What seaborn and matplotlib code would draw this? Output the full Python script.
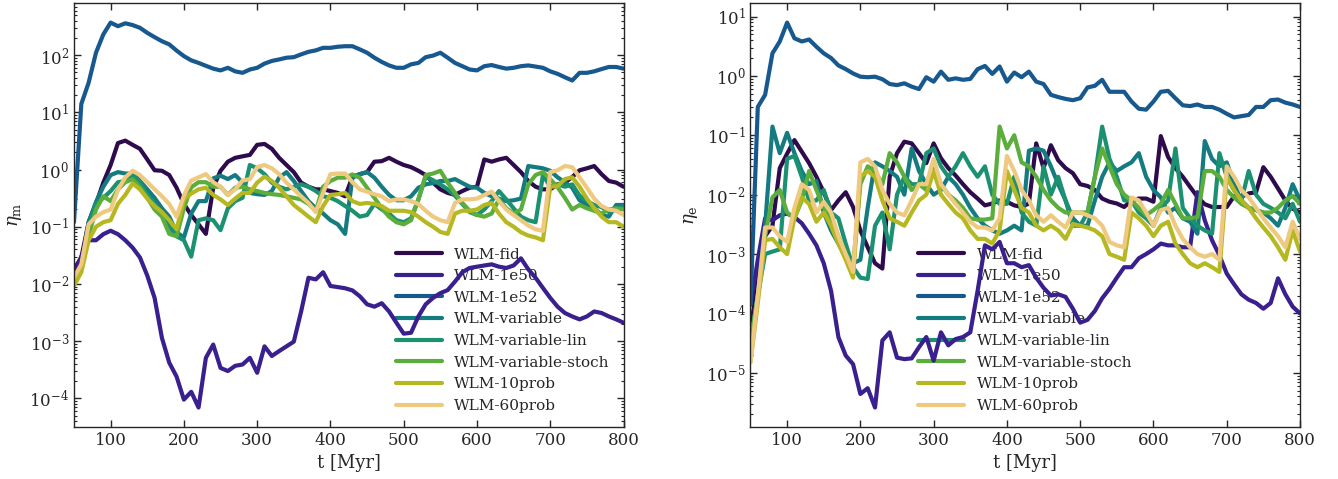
import numpy as np
import pandas as pd
import matplotlib
matplotlib.use("Agg")
import matplotlib.pyplot as plt
from matplotlib.ticker import FixedLocator, LogLocator, NullFormatter
import seaborn as sns

# time grid of the snapshots [Myr]
t = np.arange(50, 801, 10)

runs = ["WLM-fid", "WLM-1e50", "WLM-1e52", "WLM-variable", "WLM-variable-lin",
        "WLM-variable-stoch", "WLM-10prob", "WLM-60prob"]
colors = ["#2e0b4c", "#3a1f8e", "#17598f", "#147b80", "#1c9171",
          "#5bad3c", "#b6b822", "#eec97f"]

# decades labelled on each y axis
mass_ticks = [1e-4, 1e-3, 1e-2, 1e-1, 1e0, 1e1, 1e2]
energy_ticks = [1e-5, 1e-4, 1e-3, 1e-2, 1e-1, 1e0, 1e1]

# ---- mass loading factor eta_m ----
eta_m_fid = [0.018, 0.029, 0.12, 0.25, 0.59, 1.2, 2.9, 3.2, 2.7, 2.3,
             1.5, 0.97, 0.95, 0.8, 0.48, 0.25, 0.16, 0.11, 0.075, 0.48,
             0.95, 1.37, 1.6, 1.7, 1.8, 2.7, 2.8, 2.3, 1.6, 1.2,
             0.9, 0.59, 0.5, 0.45, 0.45, 0.42, 0.39, 0.34, 0.74, 0.83,
             0.9, 1.37, 1.4, 1.6, 1.37, 1.2, 1.1, 0.95, 0.8, 0.59,
             0.45, 0.39, 0.36, 0.42, 0.48, 0.5, 1.5, 1.37, 1.5, 1.6,
             1.2, 0.9, 0.63, 0.5, 0.45, 0.45, 0.55, 0.59, 0.74, 0.97,
             1.05, 1.15, 0.83, 0.63, 0.59, 0.5]
eta_m_1e50 = [0.015, 0.03, 0.058, 0.058, 0.074, 0.085, 0.074, 0.058, 0.043, 0.029,
              0.014, 0.0057, 0.00114, 0.00042, 0.00024, 9.5e-5, 1.3e-4, 6.9e-5, 5.1e-4, 8.7e-4,
              3.4e-4, 3.0e-4, 3.7e-4, 3.9e-4, 5.1e-4, 2.8e-4, 8.1e-4, 5.5e-4, 6.7e-4, 8.1e-4,
              9.8e-4, 0.0033, 0.0128, 0.012, 0.016, 0.0092, 0.0088, 0.0084, 0.0077, 0.0061,
              0.0044, 0.004, 0.0046, 0.0033, 0.0021, 0.00135, 0.0014, 0.0027, 0.0044, 0.0057,
              0.0069, 0.0078, 0.011, 0.016, 0.019, 0.02, 0.021, 0.022, 0.02, 0.019,
              0.021, 0.028, 0.018, 0.0128, 0.0085, 0.0057, 0.004, 0.0031, 0.0027, 0.0024,
              0.0027, 0.0033, 0.0031, 0.0027, 0.0024, 0.0021]
eta_m_1e52 = [0.12, 14, 33, 110, 230, 370, 320, 360, 335, 300,
              245, 206, 175, 154, 120, 96, 81, 73, 65, 58,
              54, 60, 52, 49, 56, 60, 71, 79, 84, 90,
              92, 103, 114, 121, 134, 134, 140, 143, 143, 126,
              110, 90, 76, 66, 60, 60, 69, 73, 92, 98,
              110, 90, 73, 64, 56, 54, 64, 67, 62, 58,
              60, 64, 66, 63, 60, 52, 47, 41, 36, 49,
              49, 52, 57, 62, 62, 58]
eta_m_var = [0.012, 0.02, 0.12, 0.27, 0.5, 0.8, 0.9, 0.85, 0.85, 0.63,
             0.45, 0.32, 0.21, 0.15, 0.08, 0.065, 0.17, 0.28, 0.28, 0.7,
             0.78, 0.68, 0.8, 0.59, 0.39, 0.37, 0.36, 0.42, 0.72, 0.9,
             0.63, 0.42, 0.28, 0.21, 0.17, 0.13, 0.11, 0.075, 0.72, 0.83,
             0.9, 0.72, 0.5, 0.36, 0.29, 0.29, 0.34, 0.48, 0.55, 0.58,
             0.63, 0.63, 0.68, 0.58, 0.5, 0.48, 0.39, 0.34, 0.31, 0.28,
             0.29, 0.31, 1.15, 1.1, 1.05, 0.95, 0.73, 0.6, 0.48, 0.29,
             0.24, 0.21, 0.16, 0.15, 0.24, 0.24]
eta_m_lin = [0.011, 0.02, 0.1, 0.25, 0.32, 0.42, 0.6, 0.63, 0.8, 0.6,
             0.36, 0.25, 0.17, 0.1, 0.068, 0.058, 0.03, 0.13, 0.14, 0.13,
             0.087, 0.21, 0.28, 0.32, 1.2, 1.05, 0.83, 0.59, 0.5, 0.45,
             0.5, 0.55, 0.5, 0.42, 0.34, 0.32, 0.28, 0.23, 0.19, 0.15,
             0.16, 0.25, 0.2, 0.17, 0.13, 0.12, 0.14, 0.3, 0.75, 0.65,
             0.55, 0.45, 0.35, 0.25, 0.18, 0.16, 0.2, 0.28, 0.42, 0.3,
             0.21, 0.15, 0.13, 0.12, 0.8, 0.5, 0.55, 0.5, 0.55, 0.35,
             0.28, 0.24, 0.22, 0.18, 0.2, 0.22]
eta_m_stoch = [0.011, 0.019, 0.07, 0.2, 0.34, 0.28, 0.45, 0.6, 0.68, 0.49,
               0.32, 0.2, 0.15, 0.075, 0.068, 0.21, 0.49, 0.6, 0.6, 0.5,
               0.5, 0.36, 0.48, 0.5, 0.45, 0.42, 0.39, 0.37, 0.36, 0.34,
               0.32, 0.3, 0.25, 0.19, 0.5, 0.63, 0.72, 0.72, 0.82, 0.72,
               0.48, 0.32, 0.21, 0.15, 0.12, 0.11, 0.13, 0.3, 0.8, 0.85,
               0.95, 0.59, 0.39, 0.26, 0.19, 0.16, 0.15, 0.17, 0.3, 0.21,
               0.17, 0.2, 0.55, 0.8, 0.9, 0.68, 0.49, 0.32, 0.2, 0.24,
               0.21, 0.19, 0.17, 0.2, 0.21, 0.2]
eta_m_10prob = [0.0093, 0.016, 0.058, 0.1, 0.12, 0.13, 0.25, 0.36, 0.57, 0.45,
                0.31, 0.23, 0.18, 0.13, 0.09, 0.3, 0.38, 0.45, 0.48, 0.36,
                0.3, 0.24, 0.31, 0.39, 0.39, 0.59, 0.75, 0.63, 0.48, 0.34,
                0.24, 0.19, 0.15, 0.12, 0.23, 0.36, 0.37, 0.39, 0.28, 0.25,
                0.26, 0.25, 0.23, 0.19, 0.19, 0.19, 0.18, 0.15, 0.12, 0.1,
                0.081, 0.075, 0.17, 0.19, 0.19, 0.2, 0.24, 0.26, 0.17, 0.12,
                0.1, 0.08, 0.07, 0.065, 0.058, 0.5, 0.51, 0.68, 0.73, 0.5,
                0.31, 0.21, 0.15, 0.12, 0.12, 0.1]
eta_m_60prob = [0.013, 0.022, 0.11, 0.15, 0.18, 0.2, 0.44, 0.73, 0.95, 0.8,
                0.6, 0.45, 0.34, 0.25, 0.15, 0.35, 0.64, 0.73, 0.83, 0.6,
                0.5, 0.36, 0.45, 0.64, 0.68, 1.1, 1.2, 1.05, 0.83, 0.59,
                0.45, 0.34, 0.26, 0.18, 0.39, 0.83, 0.85, 0.85, 0.6, 0.45,
                0.41, 0.37, 0.34, 0.28, 0.3, 0.3, 0.28, 0.25, 0.19, 0.15,
                0.13, 0.12, 0.26, 0.3, 0.3, 0.31, 0.36, 0.41, 0.28, 0.2,
                0.16, 0.13, 0.105, 0.09, 0.085, 0.9, 0.97, 1.15, 1.1, 0.73,
                0.48, 0.31, 0.23, 0.2, 0.19, 0.16]

# ---- energy loading factor eta_e ----
eta_e_fid = [5e-5, 4e-4, 0.002, 0.003, 0.028, 0.049, 0.083, 0.053, 0.034, 0.02,
             0.011, 0.0055, 0.008, 0.011, 0.0062, 0.0025, 0.0013, 7e-4, 5.7e-4, 0.02,
             0.05, 0.078, 0.073, 0.05, 0.034, 0.073, 0.041, 0.028, 0.021, 0.015,
             0.011, 0.0086, 0.0066, 0.0071, 0.008, 0.0076, 0.0066, 0.0062, 0.0071, 0.073,
             0.028, 0.068, 0.038, 0.028, 0.023, 0.015, 0.014, 0.012, 0.0086, 0.0076,
             0.0071, 0.0062, 0.008, 0.0086, 0.0086, 0.0076, 0.097, 0.043, 0.028, 0.02,
             0.0135, 0.0092, 0.0069, 0.0062, 0.0062, 0.0062, 0.0094, 0.0092, 0.0105, 0.011,
             0.029, 0.02, 0.0127, 0.008, 0.0058, 0.005]
eta_e_1e50 = [1.4e-4, 8e-4, 0.004, 0.0037, 0.0045, 0.0048, 0.0042, 0.0033, 0.0022, 0.0014,
              7e-4, 2.4e-4, 4e-5, 1.95e-5, 1.4e-5, 4.4e-6, 5.5e-6, 2.6e-6, 3.5e-5, 4.8e-5,
              1.8e-5, 1.7e-5, 1.75e-5, 2.7e-5, 4e-5, 1.6e-5, 4.8e-5, 2.9e-5, 3.7e-5, 4e-5,
              4.8e-5, 2.4e-4, 0.0014, 0.0012, 0.0016, 7e-4, 7e-4, 6e-4, 6.5e-4, 4e-4,
              2.7e-4, 2e-4, 2.1e-4, 1.9e-4, 1.2e-4, 7e-5, 7.8e-5, 1.1e-4, 1.8e-4, 2.6e-4,
              4e-4, 6e-4, 6e-4, 8.5e-4, 1e-3, 0.0012, 0.0015, 0.0014, 0.0014, 0.0013,
              0.0013, 0.011, 0.0037, 0.0017, 9.5e-4, 4.7e-4, 3.1e-4, 2.1e-4, 1.7e-4, 1.5e-4,
              1.2e-4, 1.5e-4, 3.9e-4, 2.1e-4, 1.3e-4, 1.0e-4]
eta_e_1e52 = [1.4e-4, 0.30, 0.48, 2.4, 3.8, 7.9, 4.3, 3.8, 4.1, 3.1,
              2.4, 2.0, 1.5, 1.3, 1.1, 0.97, 0.95, 0.97, 0.88, 0.73,
              0.7, 0.75, 0.66, 0.6, 0.95, 0.8, 1.18, 0.86, 0.91, 0.86,
              0.89, 1.3, 1.47, 1.08, 1.44, 0.8, 1.14, 0.95, 1.18, 0.8,
              0.73, 0.48, 0.44, 0.41, 0.39, 0.42, 0.64, 0.68, 0.86, 0.54,
              0.54, 0.54, 0.37, 0.28, 0.27, 0.37, 0.54, 0.56, 0.42, 0.32,
              0.31, 0.33, 0.3, 0.3, 0.27, 0.23, 0.2, 0.21, 0.22, 0.3,
              0.3, 0.39, 0.40, 0.355, 0.33, 0.30]
eta_e_var = [3e-5, 2e-4, 0.003, 0.14, 0.05, 0.11, 0.05, 0.025, 0.015, 0.017,
             0.005, 0.0025, 0.0015, 9e-4, 7e-4, 8e-4, 0.006, 0.035, 0.03, 0.025,
             0.02, 0.01, 0.06, 0.025, 0.015, 0.01, 0.012, 0.02, 0.015, 0.01,
             0.006, 0.004, 0.003, 0.0025, 0.0022, 0.0025, 0.003, 0.0025, 0.055, 0.06,
             0.055, 0.03, 0.015, 0.008, 0.004, 0.003, 0.003, 0.008, 0.02, 0.035,
             0.025, 0.03, 0.035, 0.05, 0.02, 0.012, 0.009, 0.005, 0.006, 0.004,
             0.0035, 0.0022, 0.08, 0.04, 0.03, 0.035, 0.015, 0.008, 0.006, 0.0055,
             0.005, 0.004, 0.003, 0.006, 0.015, 0.008]
eta_e_lin = [3e-5, 2e-4, 0.001, 0.0011, 0.0012, 0.04, 0.045, 0.02, 0.008, 0.008,
             0.012, 0.005, 0.004, 0.0015, 6e-4, 4e-4, 3.8e-4, 0.003, 0.005, 0.0012,
             0.01, 0.02, 0.015, 0.015, 0.05, 0.06, 0.03, 0.02, 0.03, 0.05,
             0.03, 0.02, 0.03, 0.01, 0.007, 0.007, 0.02, 0.005, 0.0035, 0.003,
             0.03, 0.01, 0.02, 0.008, 0.003, 0.003, 0.005, 0.02, 0.14, 0.04,
             0.02, 0.008, 0.008, 0.005, 0.004, 0.003, 0.006, 0.008, 0.06, 0.006,
             0.004, 0.003, 0.0025, 0.0022, 0.05, 0.02, 0.012, 0.008, 0.025, 0.01,
             0.007, 0.006, 0.005, 0.004, 0.007, 0.0035]
eta_e_stoch = [3e-5, 2e-4, 0.002, 0.009, 0.012, 0.005, 0.004, 0.008, 0.025, 0.012,
               0.006, 0.004, 0.002, 0.001, 6e-4, 0.015, 0.03, 0.025, 0.015, 0.05,
               0.035, 0.02, 0.012, 0.015, 0.012, 0.03, 0.015, 0.01, 0.008, 0.006,
               0.004, 0.0038, 0.0038, 0.004, 0.14, 0.06, 0.1, 0.035, 0.03, 0.02,
               0.012, 0.008, 0.006, 0.005, 0.005, 0.005, 0.005, 0.02, 0.06, 0.03,
               0.015, 0.01, 0.008, 0.006, 0.0045, 0.0055, 0.007, 0.012, 0.007, 0.004,
               0.004, 0.0042, 0.025, 0.025, 0.02, 0.012, 0.009, 0.007, 0.006, 0.0055,
               0.005, 0.005, 0.006, 0.008, 0.0095, 0.007]
eta_e_10prob = [1.5e-5, 1.5e-4, 0.0017, 0.0018, 0.0013, 0.001, 0.004, 0.009, 0.007, 0.0035,
                0.005, 0.003, 0.0015, 8e-4, 4e-4, 0.02, 0.025, 0.02, 0.008, 0.004,
                0.0035, 0.003, 0.005, 0.008, 0.01, 0.025, 0.01, 0.007, 0.005, 0.004,
                0.0025, 0.0018, 0.0018, 0.0015, 0.0025, 0.025, 0.012, 0.006, 0.005, 0.003,
                0.0025, 0.003, 0.0025, 0.0018, 0.0032, 0.003, 0.0028, 0.0025, 0.002, 0.001,
                9e-4, 8e-4, 0.005, 0.004, 0.003, 0.002, 0.003, 0.0035, 0.0015, 0.001,
                7e-4, 6e-4, 7e-4, 6e-4, 5e-4, 0.02, 0.012, 0.008, 0.006, 0.004,
                0.0028, 0.002, 0.0013, 8e-4, 0.0025, 0.0011]
eta_e_60prob = [1.5e-5, 2e-4, 0.0028, 0.0028, 0.002, 0.0016, 0.006, 0.015, 0.012, 0.005,
                0.0075, 0.005, 0.002, 0.001, 5e-4, 0.035, 0.04, 0.03, 0.012, 0.007,
                0.005, 0.0045, 0.008, 0.015, 0.015, 0.04, 0.015, 0.01, 0.007, 0.005,
                0.0035, 0.0028, 0.0028, 0.0025, 0.004, 0.045, 0.025, 0.012, 0.008, 0.0045,
                0.0035, 0.0045, 0.0035, 0.0028, 0.005, 0.005, 0.0045, 0.004, 0.003, 0.0016,
                0.0014, 0.0013, 0.009, 0.008, 0.005, 0.003, 0.0055, 0.006, 0.003, 0.0018,
                0.0013, 0.001, 9e-4, 0.001, 8e-4, 0.03, 0.02, 0.012, 0.009, 0.006,
                0.004, 0.0028, 0.002, 0.0013, 0.0035, 0.0018]

mass_series = [eta_m_fid, eta_m_1e50, eta_m_1e52, eta_m_var, eta_m_lin,
               eta_m_stoch, eta_m_10prob, eta_m_60prob]
energy_series = [eta_e_fid, eta_e_1e50, eta_e_1e52, eta_e_var, eta_e_lin,
                 eta_e_stoch, eta_e_10prob, eta_e_60prob]


def long_table(series):
    frames = [pd.DataFrame({"t": t, "eta": vals, "run": name})
              for name, vals in zip(runs, series)]
    return pd.concat(frames, ignore_index=True)


sns.set_style("ticks")
plt.rcParams.update({
    "font.family": ["DejaVu Serif"],
    "mathtext.fontset": "dejavuserif",
    "xtick.direction": "in",
    "ytick.direction": "in",
    "xtick.top": True,
    "ytick.right": True,
    "axes.linewidth": 1.0,
    "xtick.labelsize": 12,
    "ytick.labelsize": 12,
})

fig, axes = plt.subplots(1, 2, figsize=(13.38, 4.79), dpi=100)
fig.subplots_adjust(left=0.0553, right=0.9716, top=0.993, bottom=0.109, wspace=0.231)

panels = [(axes[0], mass_series, mass_ticks, r"$\eta_{\rm m}$", "lower right"),
          (axes[1], energy_series, energy_ticks, r"$\eta_{\rm e}$", "lower center")]

for ax, series, yticks, ylab, loc in panels:
    ax.set_yscale("log")
    sns.lineplot(data=long_table(series), x="t", y="eta", hue="run",
                 hue_order=runs, palette=colors, linewidth=3,
                 estimator=None, sort=False, ax=ax)
    ax.set_xlim(50, 800)
    ax.set_xticks([100, 200, 300, 400, 500, 600, 700, 800])
    ax.set_xlabel("t [Myr]", fontsize=13)
    ax.set_ylabel(ylab, fontsize=13)
    ax.yaxis.set_major_locator(FixedLocator(yticks))
    ax.yaxis.set_minor_locator(LogLocator(base=10, subs=np.arange(2, 10), numticks=200))
    ax.yaxis.set_minor_formatter(NullFormatter())
    ax.tick_params(which="major", direction="in", length=5, width=1,
                   top=True, right=True)
    ax.tick_params(axis="y", which="minor", direction="in", length=2.5,
                   width=0.8, left=True, right=True)
    ax.tick_params(axis="x", which="minor", bottom=False, top=False)
    sns.move_legend(ax, loc, frameon=False, title=None, fontsize=11,
                    handlelength=3.0, labelspacing=0.5)
    ax.get_legend().set_zorder(1)

fig.savefig("out.png", dpi=100)
